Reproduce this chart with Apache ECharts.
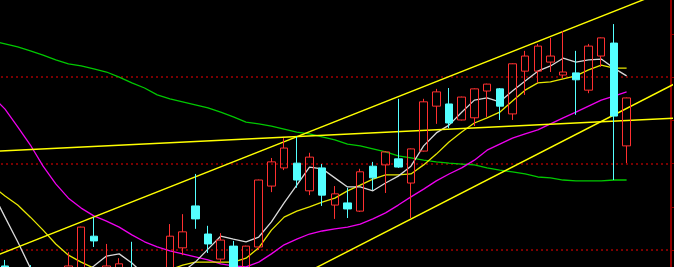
<!DOCTYPE html>
<html>
<head>
<meta charset="utf-8">
<script src="https://cdn.jsdelivr.net/npm/echarts@6/dist/echarts.min.js"></script>
<style>
html,body{margin:0;padding:0;background:#000;overflow:hidden;width:674px;height:267px;}
#c{position:absolute;left:-20px;top:-20px;width:714px;height:400px;}
</style>
</head>
<body>
<div id="c"></div>
<script>
// categories (trading days; last 3 are empty space to the right)
const categories = ['1','2','3','4','5','6','7','8','9','10','11','12','13','14','15','16','17','18','19','20',
  '21','22','23','24','25','26','27','28','29','30','31','32','33','34','35','36','37','38','39','40',
  '41','42','43','44','45','46','47','48','49','50','51','52','53','54'];

// [open, close, low, high]
const ohlc = [
  [9.60, 9.30, 9.20, 9.70],
  [9.63, 9.19, 9.07, 9.77],
  [9.12, 8.84, 8.73, 9.26],
  [9.42, 8.89, 8.73, 9.65],
  [8.73, 9.07, 8.61, 9.21],
  [9.03, 8.84, 8.70, 9.17],
  [9.07, 9.63, 8.96, 9.95],
  [9.19, 10.53, 9.07, 10.54],
  [10.32, 10.21, 10.07, 10.76],
  [9.31, 9.63, 9.19, 10.14],
  [9.49, 9.68, 9.35, 9.81],
  [9.49, 9.07, 8.96, 10.19],
  [9.19, 9.03, 8.89, 9.42],
  [9.07, 9.35, 8.96, 9.49],
  [9.42, 10.32, 9.31, 10.60],
  [10.05, 10.42, 9.88, 10.83],
  [11.02, 10.72, 10.49, 11.76],
  [10.37, 10.14, 9.93, 10.56],
  [9.79, 10.23, 9.72, 10.39],
  [10.09, 9.49, 9.35, 10.21],
  [9.54, 10.09, 9.44, 10.10],
  [10.07, 11.62, 10.00, 11.63],
  [11.48, 12.04, 11.34, 12.13],
  [11.90, 12.36, 11.85, 12.59],
  [12.01, 11.62, 11.44, 12.62],
  [11.37, 12.15, 11.27, 12.25],
  [11.90, 11.27, 11.02, 11.99],
  [11.04, 11.30, 10.72, 11.48],
  [11.09, 10.95, 10.74, 11.44],
  [10.90, 11.81, 10.88, 11.88],
  [11.94, 11.67, 11.39, 12.04],
  [11.97, 12.27, 11.32, 12.29],
  [12.11, 11.92, 11.90, 13.50],
  [11.55, 12.34, 10.74, 12.35],
  [12.29, 13.43, 12.28, 13.50],
  [13.33, 13.66, 12.92, 13.73],
  [13.38, 12.94, 12.82, 13.75],
  [13.01, 13.54, 13.00, 13.55],
  [13.06, 13.73, 12.87, 13.74],
  [13.68, 13.84, 13.08, 13.85],
  [13.73, 13.33, 13.01, 13.75],
  [13.15, 14.31, 13.01, 14.32],
  [14.14, 14.49, 13.59, 14.61],
  [14.14, 14.72, 13.87, 14.77],
  [14.35, 14.49, 14.12, 14.91],
  [14.05, 14.12, 13.98, 15.07],
  [14.10, 13.94, 13.13, 14.61],
  [13.70, 14.72, 13.63, 14.77],
  [14.49, 14.91, 14.24, 14.92],
  [14.79, 13.10, 11.62, 15.23],
  [12.41, 13.52, 12.01, 13.53]
];

const ma5 = [11.34, 10.76, 10.19, 9.58, 9.19, 9.07, 9.19, 9.42, 9.63, 9.86, 9.91, 9.70, 9.42, 9.26, 9.31, 9.49,
  9.72, 10.02, 10.32, 10.25, 10.19, 10.30, 10.65, 11.09, 11.50, 11.92, 11.88, 11.67, 11.46, 11.46, 11.37, 11.55,
  11.71, 11.94, 12.41, 12.71, 12.89, 13.19, 13.47, 13.52, 13.43, 13.68, 13.91, 14.14, 14.26, 14.44, 14.35, 14.40,
  14.42, 14.21, 14.03];
const ma10 = [11.48, 11.25, 11.04, 10.76, 10.46, 10.14, 9.88, 9.72, 9.58, 9.47, 9.40, 9.38, 9.40, 9.47, 9.54, 9.65,
  9.72, 9.72, 9.72, 9.72, 9.81, 10.05, 10.46, 10.76, 10.90, 11.00, 11.11, 11.20, 11.37, 11.50, 11.64, 11.74,
  11.74, 11.76, 11.97, 12.22, 12.50, 12.73, 12.94, 13.06, 13.19, 13.45, 13.70, 13.87, 13.89, 13.96, 14.03, 14.17,
  14.28, 14.21, 14.21];
const ma20 = [13.56, 13.26, 12.85, 12.43, 11.94, 11.53, 11.20, 10.97, 10.79, 10.67, 10.53, 10.35, 10.19, 10.07, 9.98, 9.91,
  9.84, 9.77, 9.68, 9.63, 9.61, 9.72, 9.91, 10.12, 10.25, 10.37, 10.44, 10.49, 10.53, 10.60, 10.72, 10.86,
  11.04, 11.23, 11.41, 11.60, 11.76, 11.90, 12.08, 12.31, 12.45, 12.59, 12.69, 12.78, 12.92, 13.06, 13.19, 13.33,
  13.47, 13.56, 13.66];
const ma60 = [14.84, 14.77, 14.70, 14.61, 14.51, 14.40, 14.31, 14.26, 14.19, 14.12, 14.00, 13.87, 13.75, 13.59, 13.50, 13.43,
  13.36, 13.29, 13.19, 13.08, 12.96, 12.92, 12.87, 12.80, 12.73, 12.69, 12.62, 12.55, 12.45, 12.41, 12.34, 12.27,
  12.18, 12.13, 12.08, 12.04, 12.01, 11.99, 11.97, 11.90, 11.85, 11.81, 11.76, 11.69, 11.67, 11.62, 11.60, 11.60,
  11.60, 11.62, 11.62];

// trend lines: [day index, price]
const trendUpper = [[-1, 9.72], [55, 16.22]];
const trendLower = [[20, 8.76], [55, 14.03]];
const trendFlat = [[-1, 12.27], [55, 13.07]];

const priceTicks = { min: 8, max: 16, tickStep: 1, gridStep: 2 };

const chart = echarts.init(document.getElementById('c'), null, { renderer: 'canvas' });
const maLine = (name, data, color) => ({
  name, type: 'line', data, xAxisIndex: 0, yAxisIndex: 0, showSymbol: false, symbol: 'none',
  lineStyle: { color, width: 1.3 }, z: 2, silent: true
});
const trend = (name, data) => ({
  name, type: 'line', data, xAxisIndex: 1, yAxisIndex: 0, showSymbol: false, symbol: 'none',
  lineStyle: { color: '#ffff00', width: 1.4 }, z: 2, clip: true, silent: true
});
chart.setOption({
  backgroundColor: '#000000',
  animation: false,
  grid: { left: 6, right: 23, top: 10.8, bottom: 43.6, containLabel: false },
  xAxis: [
    { type: 'category', data: categories, boundaryGap: true, show: false },
    { type: 'value', min: -0.5, max: 53.5, show: false }
  ],
  yAxis: [
    { type: 'value', position: 'right', min: priceTicks.min, max: priceTicks.max, interval: priceTicks.tickStep,
      axisLine: { show: true, onZero: false, lineStyle: { color: '#900000', width: 2 } },
      axisTick: { show: true, inside: false, length: 3, lineStyle: { color: '#900000', width: 1 } },
      axisLabel: { show: false }, splitLine: { show: false } },
    { type: 'value', position: 'right', min: priceTicks.min, max: priceTicks.max, interval: priceTicks.gridStep,
      axisLine: { show: false, onZero: false }, axisTick: { show: false }, axisLabel: { show: false },
      splitLine: { show: true, lineStyle: { color: '#7a0000', type: [2, 3], width: 2 } } }
  ],
  series: [
    maLine('MA60', ma60, '#00c800'),
    maLine('MA20', ma20, '#ee00ee'),
    maLine('MA10', ma10, '#e8e800'),
    maLine('MA5', ma5, '#d8d8d8'),
    trend('T1', trendUpper),
    trend('T2', trendLower),
    trend('T3', trendFlat),
    { name: 'K', type: 'candlestick', data: ohlc, xAxisIndex: 0, yAxisIndex: 0, barWidth: 8, z: 3,
      itemStyle: { color: 'rgba(0,0,0,0)', color0: '#54ffff', borderColor: '#ff3030', borderColor0: '#54ffff', borderWidth: 1 } }
  ]
});
</script>
</body>
</html>
